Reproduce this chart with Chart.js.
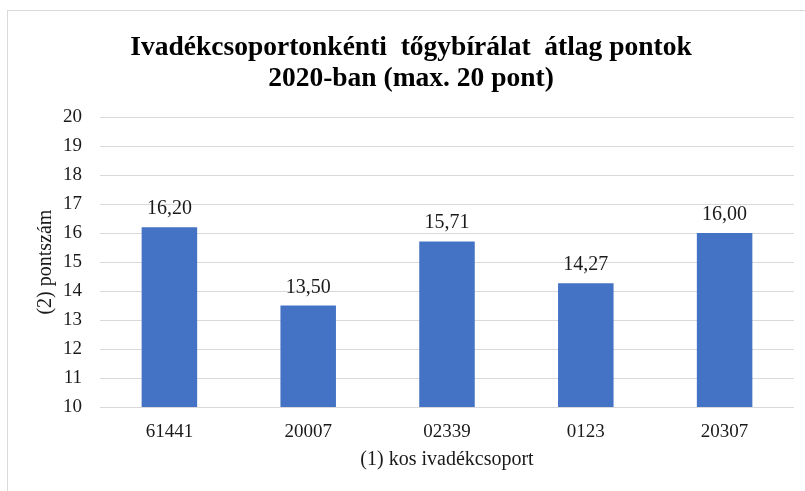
<!DOCTYPE html>
<html>
<head>
<meta charset="utf-8">
<script src="https://cdn.jsdelivr.net/npm/chart.js@4"></script>
<style>
html,body{margin:0;padding:0;background:#fff;}
#wrap{position:relative;width:805px;height:491px;overflow:hidden;}
#frame{position:absolute;left:7px;top:10px;width:820px;height:500px;border-left:1px solid #d9d9d9;border-top:1px solid #d9d9d9;box-sizing:border-box;}
canvas{position:absolute;left:0;top:0;}
</style>
</head>
<body>
<div id="wrap">
<div id="frame"></div>
<canvas id="c" width="805" height="491"></canvas>
</div>
<script>
const categories = ["61441", "20007", "02339", "0123", "20307"];
const values = [16.20, 13.50, 15.71, 14.27, 16.00];
const yTicks = [10, 11, 12, 13, 14, 15, 16, 17, 18, 19, 20];
const titleLines = ["Ivadékcsoportonkénti  tőgybírálat  átlag pontok", "2020-ban (max. 20 pont)"];
const xTitle = "(1) kos ivadékcsoport";
const yTitle = "(2) pontszám";

const SERIF = "'Liberation Serif', 'Times New Roman', serif";
Chart.defaults.font.family = SERIF;

const labelPlugin = {
  id: 'barLabels',
  afterDatasetsDraw(chart) {
    const ctx = chart.ctx;
    const meta = chart.getDatasetMeta(0);
    ctx.save();
    ctx.font = "20px " + SERIF;
    ctx.fillStyle = "#1a1a1a";
    ctx.textAlign = "center";
    ctx.textBaseline = "alphabetic";
    meta.data.forEach((bar, i) => {
      const txt = values[i].toFixed(2).replace('.', ',');
      ctx.fillText(txt, bar.x, bar.y - 13);
    });
    ctx.restore();
  }
};

new Chart(document.getElementById('c'), {
  type: 'bar',
  data: {
    labels: categories,
    datasets: [{
      data: values,
      backgroundColor: '#4472C4',
      borderWidth: 0,
      barPercentage: 0.4,
      categoryPercentage: 1.0
    }]
  },
  options: {
    responsive: false,
    animation: false,
    devicePixelRatio: 1,
    layout: { padding: { left: 28, right: 11, top: 0, bottom: 0 } },
    plugins: {
      legend: { display: false },
      tooltip: { enabled: false },
      title: {
        display: true,
        text: titleLines,
        color: '#000',
        font: { family: SERIF, size: 27.5, weight: 'bold', lineHeight: 1.13 },
        padding: { top: 32, bottom: 23 }
      }
    },
    scales: {
      x: {
        grid: { display: false },
        border: { display: false },
        ticks: { color: '#1a1a1a', font: { family: SERIF, size: 19 }, padding: 6 },
        title: { display: true, text: xTitle, color: '#1a1a1a', font: { family: SERIF, size: 20 }, padding: { top: 0, bottom: 19 } },
        afterFit(s) { s.height = 84; }
      },
      y: {
        min: 10,
        max: 20,
        afterBuildTicks(s) { s.ticks = yTicks.map(v => ({ value: v })); },
        grid: { color: '#d9d9d9', lineWidth: 1, drawTicks: false },
        border: { display: false },
        ticks: { color: '#1a1a1a', font: { family: SERIF, size: 19 }, padding: 18 },
        title: { display: true, text: yTitle, color: '#1a1a1a', font: { family: SERIF, size: 20 }, padding: { top: 6, bottom: 0 } },
        afterFit(s) { s.width = 72; }
      }
    }
  },
  plugins: [labelPlugin]
});
</script>
</body>
</html>
